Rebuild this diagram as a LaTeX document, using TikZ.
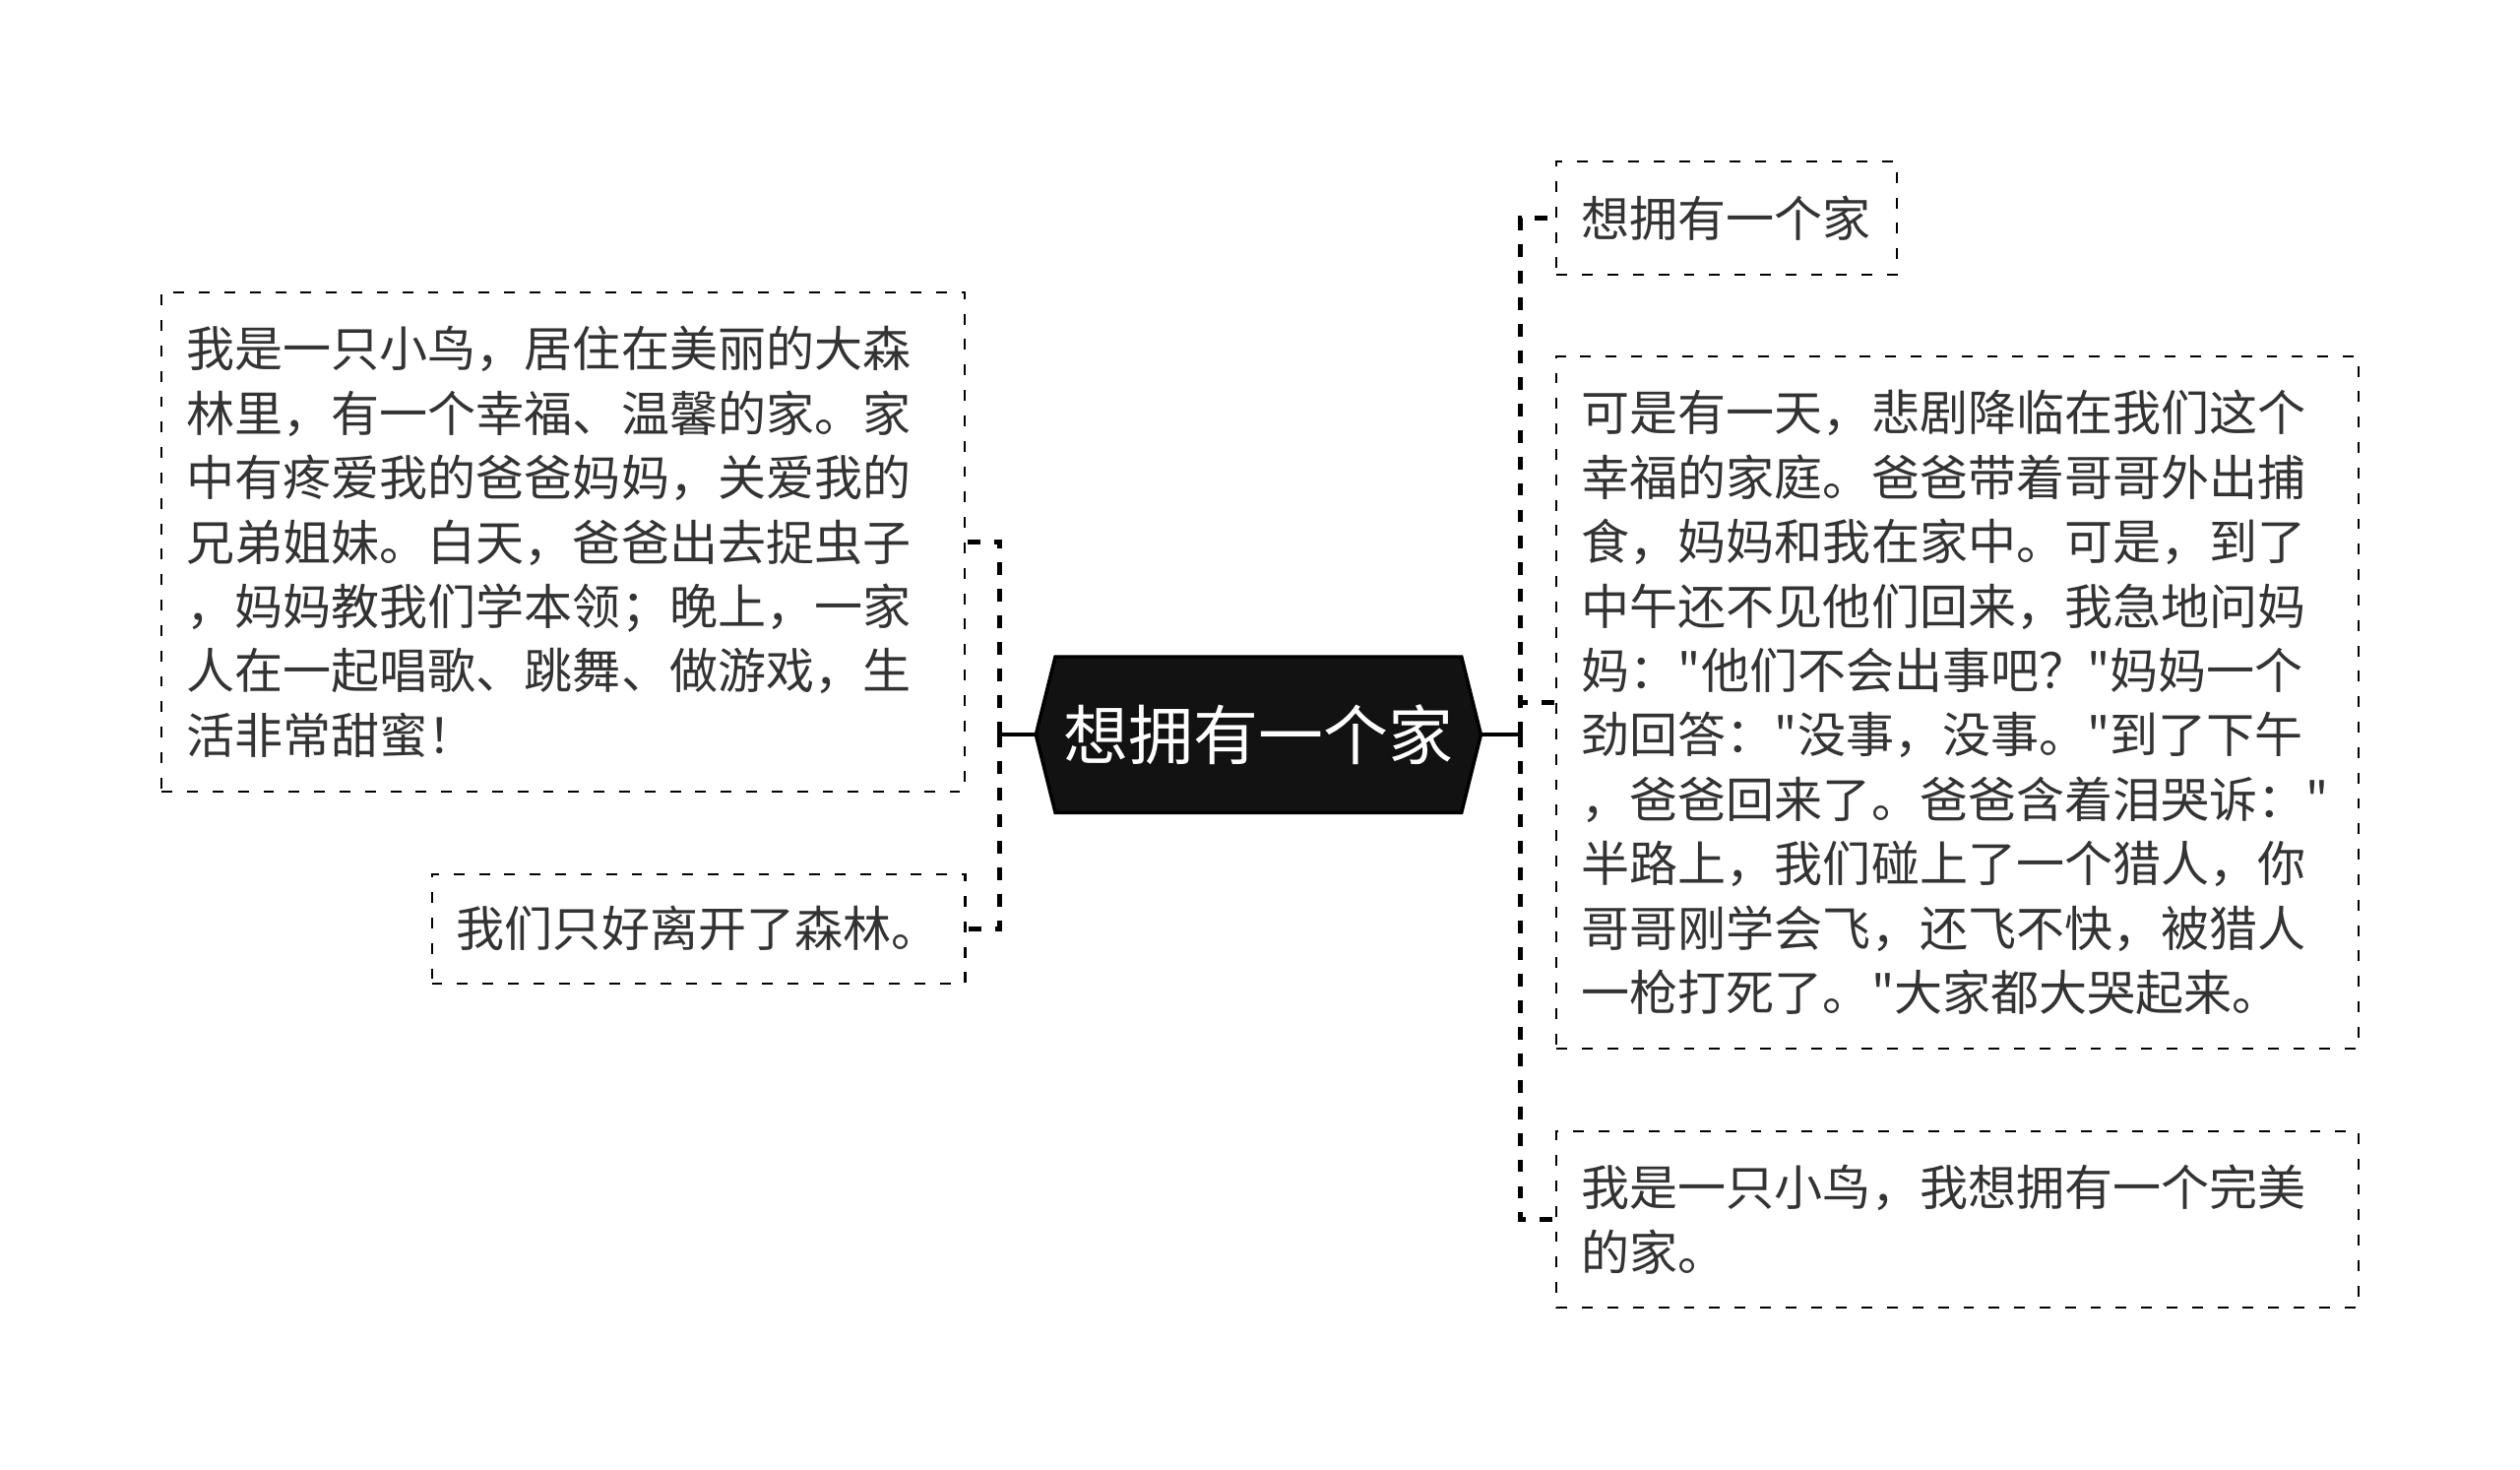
\documentclass[tikz,border=0pt]{standalone}
\usepackage{fontspec}
\setmainfont{Noto Sans CJK SC}[Ligatures=TeXOff]
\usetikzlibrary{shapes.symbols}

\begin{document}
\begin{tikzpicture}[x=0.02cm, y=-0.02cm,
    hub/.style={signal, signal to=east and west, signal pointer angle=152,
        fill=black!93, draw=black, line width=1.2pt, text=white,
        font=\fontsize{23pt}{26pt}\selectfont,
        minimum width=5.54cm, minimum height=1.94cm, inner sep=0pt},
    leaf/.style={draw=black, line width=0.7pt, dash pattern=on 3.8pt off 5.2pt,
        anchor=north west, align=left, inner xsep=0.31cm, inner ysep=0pt,
        text=black!80, font=\fontsize{17.1pt}{22.8pt}\selectfont},
    link/.style={line width=1.75pt, dash pattern=on 4.5pt off 4.9pt},
    stub/.style={line width=1.4pt}]
    \useasboundingbox (0,0) rectangle (1568,914);

    \node[hub] (hub) at (783,457) {想拥有一个家};

    % left side
    \node[leaf, text width=9.38cm, minimum height=6.22cm] (birdlife) at (100,181)
        {我是一只小鸟，居住在美丽的大森\\林里，有一个幸福、温馨的家。家\\中有疼爱我的爸爸妈妈，关爱我的\\兄弟姐妹。白天，爸爸出去捉虫子\\，妈妈教我们学本领；晚上，一家\\人在一起唱歌、跳舞、做游戏，生\\活非常甜蜜！};
    \node[leaf, text width=6.02cm, minimum height=1.36cm] (leave) at (268,543)
        {我们只好离开了森林。};

    % right side
    \node[leaf, text width=3.62cm, minimum height=1.4cm] (wish) at (968,100)
        {想拥有一个家};
    \node[leaf, text width=9.36cm, minimum height=8.62cm] (tragedy) at (968,221)
        {可是有一天，悲剧降临在我们这个\\幸福的家庭。爸爸带着哥哥外出捕\\食，妈妈和我在家中。可是，到了\\中午还不见他们回来，我急地问妈\\妈："他们不会出事吧？"妈妈一个\\劲回答："没事，没事。"到了下午\\，爸爸回来了。爸爸含着泪哭诉："\\半路上，我们碰上了一个猎人，你\\哥哥刚学会飞，还飞不快，被猎人\\一枪打死了。"大家都大哭起来。};
    \node[leaf, text width=9.36cm, minimum height=2.2cm] (dream) at (968,703)
        {我是一只小鸟，我想拥有一个完美\\的家。};

    \coordinate (lj) at (622,457);
    \coordinate (rj) at (946,457);

    \draw[stub] (hub.west) -- (lj);
    \draw[link] (lj) |- (birdlife.east);
    \draw[link] (lj) |- (leave.east);

    \draw[stub] (hub.east) -- (rj);
    \draw[link] (rj) |- (wish.west);
    \draw[link] (rj) |- (tragedy.west);
    \draw[link] (rj) |- (dream.west);
\end{tikzpicture}
\end{document}
